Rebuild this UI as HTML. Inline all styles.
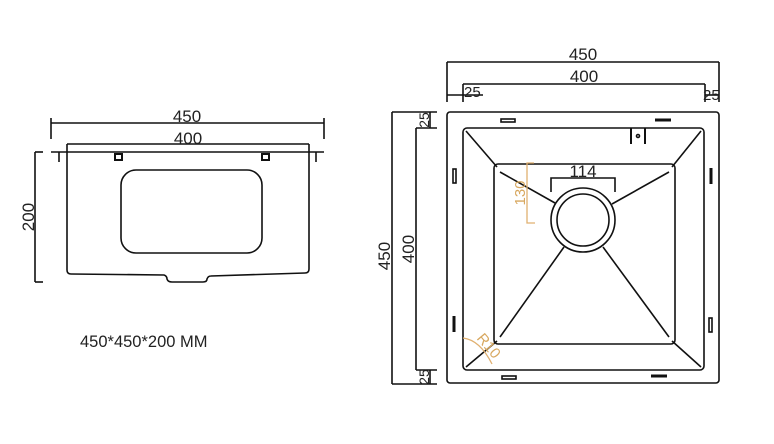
<!DOCTYPE html>
<html><head><meta charset="utf-8"><style>
html,body{margin:0;padding:0;background:#fff;width:774px;height:444px;overflow:hidden}
svg{display:block}
text{font-family:"Liberation Sans",sans-serif;fill:#222}
</style></head><body>
<svg width="774" height="444" viewBox="0 0 774 444" xmlns="http://www.w3.org/2000/svg">
<g stroke="#111" stroke-width="1.6" fill="none">
<!-- LEFT VIEW -->
<line x1="51" y1="123" x2="324" y2="123"/>
<line x1="51" y1="118" x2="51" y2="139"/>
<line x1="324" y1="118" x2="324" y2="139"/>
<line x1="67" y1="144" x2="309" y2="144"/>
<line x1="51" y1="152" x2="324" y2="152"/>
<line x1="59" y1="152" x2="59" y2="162"/>
<line x1="316" y1="152" x2="316" y2="162"/>
<path d="M67 144 V270 Q67 274 71 274 L164 275 Q167 276 167 279 Q168 282 172 282 L203 282 Q207 282 207 279 Q208 276 211 276 L305 273 Q309 273 309 269 V144"/>
<rect x="121" y="170" width="141" height="83" rx="15"/>
<rect x="115" y="154" width="7" height="6" stroke-width="2"/>
<rect x="262" y="154" width="7" height="6" stroke-width="2"/>
<line x1="35" y1="152" x2="35" y2="282"/>
<line x1="35" y1="152" x2="43" y2="152"/>
<line x1="35" y1="282" x2="43" y2="282"/>

<!-- RIGHT VIEW -->
<line x1="447" y1="62" x2="719" y2="62"/>
<line x1="447" y1="62" x2="447" y2="102"/>
<line x1="719" y1="62" x2="719" y2="102"/>
<line x1="463" y1="84" x2="705" y2="84"/>
<line x1="463" y1="84" x2="463" y2="102"/>
<line x1="705" y1="84" x2="705" y2="102"/>
<line x1="447" y1="95" x2="483" y2="95"/>
<line x1="705" y1="95" x2="719" y2="95"/>

<line x1="392" y1="112" x2="392" y2="384"/>
<line x1="392" y1="112" x2="437" y2="112"/>
<line x1="392" y1="384" x2="437" y2="384"/>
<line x1="416" y1="128" x2="416" y2="370"/>
<line x1="416" y1="128" x2="437" y2="128"/>
<line x1="416" y1="370" x2="437" y2="370"/>
<line x1="430" y1="112" x2="430" y2="128"/>
<line x1="430" y1="370" x2="430" y2="384"/>

<rect x="447" y="112" width="272" height="271" rx="3"/>
<rect x="463" y="128" width="241" height="242" rx="4"/>
<rect x="494" y="164" width="181" height="180" rx="4"/>
<line x1="466" y1="131" x2="497" y2="167"/>
<line x1="701" y1="131" x2="672" y2="167"/>
<line x1="466" y1="367" x2="497" y2="341"/>
<line x1="701" y1="367" x2="672" y2="341"/>
<line x1="500" y1="172" x2="555" y2="203"/>
<line x1="669" y1="172" x2="612" y2="204"/>
<line x1="500" y1="337" x2="564" y2="247"/>
<line x1="669" y1="337" x2="603" y2="247"/>
<circle cx="583" cy="220" r="32"/>
<circle cx="583" cy="220" r="26"/>
<polyline points="551,192 551,178 615,178 615,192"/>
<rect x="501" y="119" width="14" height="3"/>
<line x1="655" y1="120" x2="671" y2="120" stroke-width="3"/>
<rect x="453" y="169" width="3" height="14"/>
<line x1="711" y1="168" x2="711" y2="184" stroke-width="3"/>
<line x1="454" y1="316" x2="454" y2="332" stroke-width="3"/>
<rect x="709" y="318" width="3" height="14"/>
<rect x="502" y="376" width="14" height="3"/>
<line x1="651" y1="376" x2="667" y2="376" stroke-width="3"/>
<line x1="631" y1="128" x2="631" y2="144" stroke-width="2"/>
<line x1="645" y1="128" x2="645" y2="144" stroke-width="2"/>
<circle cx="638" cy="136" r="1.5"/>
</g>
<g stroke="#e0b070" stroke-width="1.3" fill="none">
<polyline points="534,163 527,163 527,223 535,223"/>
<path d="M463 338 Q480 340 492 364"/>
</g>
<text x="187" y="122" font-size="17" text-anchor="middle">450</text>
<text x="188" y="144" font-size="17" text-anchor="middle">400</text>
<text x="34" y="217" font-size="17" text-anchor="middle" transform="rotate(-90 34 217)">200</text>
<text x="80" y="347" font-size="16.5">450*450*200 MM</text>
<text x="583" y="60" font-size="17" text-anchor="middle">450</text>
<text x="584" y="82" font-size="17" text-anchor="middle">400</text>
<text x="464" y="97" font-size="15">25</text>
<text x="703" y="100" font-size="15">25</text>
<text x="390" y="256" font-size="17" text-anchor="middle" transform="rotate(-90 390 256)">450</text>
<text x="414" y="249" font-size="17" text-anchor="middle" transform="rotate(-90 414 249)">400</text>
<text x="429" y="120" font-size="14" text-anchor="middle" transform="rotate(-90 429 120)">25</text>
<text x="429" y="377" font-size="14" text-anchor="middle" transform="rotate(-90 429 377)">25</text>
<text x="583" y="177" font-size="17" text-anchor="middle">114</text>
<text x="525" y="193" font-size="15" text-anchor="middle" style="fill:#d8a860" transform="rotate(-90 525 193)">130</text>
<text x="485" y="349" font-size="15" text-anchor="middle" style="fill:#d8a860" transform="rotate(50 485 349)">R10</text>
</svg>
</body></html>
